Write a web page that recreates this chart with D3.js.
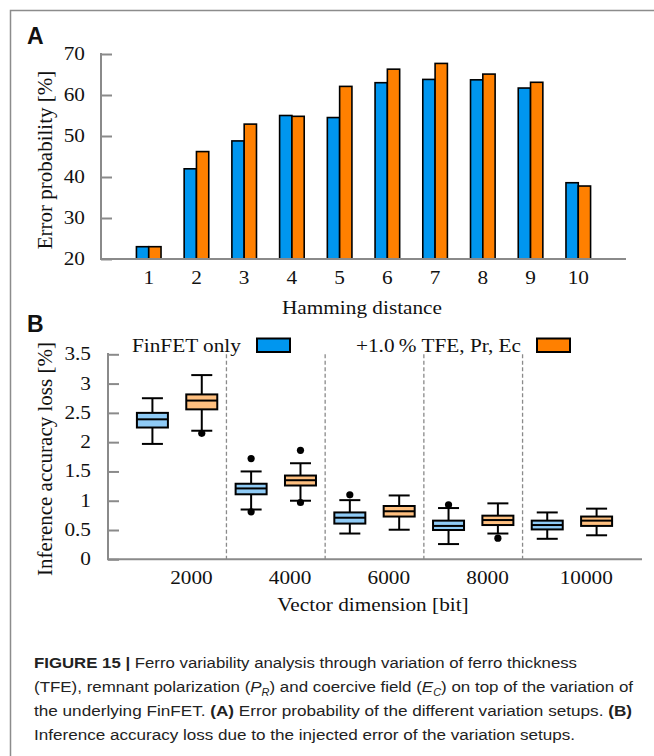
<!DOCTYPE html>
<html>
<head>
<meta charset="utf-8">
<script src="https://cdn.jsdelivr.net/npm/d3@7"></script>
<style>
  body { margin: 0; background: #fff; }
  svg text { fill: #111; }
</style>
</head>
<body>
<div id="viz"></div>
<script>
// ---- data, panel A: error probability [%] per hamming distance
var hamming = [1, 2, 3, 4, 5, 6, 7, 8, 9, 10];
var errFinfet = [23.0, 42.0, 48.8, 55.0, 54.5, 63.0, 63.8, 63.7, 61.7, 38.6];
var errFerro  = [23.0, 46.2, 52.9, 54.8, 62.1, 66.3, 67.7, 65.1, 63.1, 37.8];
var errTicks = [20, 30, 40, 50, 60, 70];

// ---- data, panel B: inference accuracy loss [%] per vector dimension
var dims = ["2000", "4000", "6000", "8000", "10000"];
// [whisker low, q1, median, q3, whisker high]
var lossFinfet = [
  [1.97, 2.25, 2.39, 2.50, 2.75],
  [0.85, 1.11, 1.21, 1.29, 1.50],
  [0.44, 0.61, 0.71, 0.80, 1.01],
  [0.26, 0.50, 0.57, 0.66, 0.875],
  [0.35, 0.51, 0.585, 0.66, 0.80]
];
var lossFerro = [
  [2.195, 2.56, 2.71, 2.815, 3.145],
  [1.00, 1.26, 1.35, 1.43, 1.64],
  [0.505, 0.73, 0.82, 0.91, 1.09],
  [0.44, 0.585, 0.67, 0.745, 0.955],
  [0.41, 0.57, 0.66, 0.73, 0.865]
];
var outFinfet = [[], [1.72, 0.81], [1.10], [0.93], []];
var outFerro  = [[2.15], [1.86, 0.97], [], [0.36], []];
var lossTicks = [0, 0.5, 1, 1.5, 2, 2.5, 3, 3.5];
var seriesNames = ["FinFET only", "+1.0\u2009% TFE, Pr, Ec"];

var blue = "#0096ef", orange = "#ff8000";
var lightBlue = "#8fcbf6", lightOrange = "#ffc080";
var axisGray = "#8a8a8a";
var serif = "'Liberation Serif', 'Times New Roman', serif";
// the figure is a bit stretched sideways, so chart text is widened too
var stretch = 1.15;

var svg = d3.select("#viz").append("svg")
  .attr("width", 654)
  .attr("height", 756);

// helper for the serif chart labels
function label(g, x, y, txt, anchor) {
  return g.append("text")
    .attr("transform", "translate(" + x + "," + y + ") scale(" + stretch + ",1)")
    .attr("text-anchor", anchor)
    .style("font-family", serif).style("font-size", "18.5px")
    .text(txt);
}

// frame (top + left)
svg.append("path")
  .attr("d", "M10.5,756 V10.5 H654")
  .attr("fill", "none")
  .attr("stroke", "#8c8c8c")
  .attr("stroke-width", 1.5);

// panel letters
svg.append("text").attr("x", 27).attr("y", 44).text("A")
  .style("font-family", "'Liberation Sans', Arial, sans-serif")
  .style("font-weight", "bold").style("font-size", "23px");
svg.append("text").attr("x", 27).attr("y", 332).text("B")
  .style("font-family", "'Liberation Sans', Arial, sans-serif")
  .style("font-weight", "bold").style("font-size", "23px");

// ================= PANEL A =================
var xA = d3.scaleLinear().domain([0, 11]).range([101, 626]);
var yA = d3.scaleLinear().domain([20, 70]).range([259, 54]);
var barW = 12.3;

var gA = svg.append("g");

// y axis with inner ticks
var axA = gA.append("g").attr("transform", "translate(101,0)")
  .call(d3.axisRight(yA).tickValues(errTicks).tickSize(11).tickFormat(""));
axA.select(".domain").remove();
axA.selectAll("line").attr("stroke", axisGray).attr("stroke-width", 2);
errTicks.forEach(function (d) { label(gA, 85, yA(d) + 6, d, "end"); });

gA.selectAll(".barB").data(hamming).enter().append("rect")
  .attr("x", d => xA(d) - barW)
  .attr("y", (d, i) => yA(errFinfet[i]))
  .attr("width", barW)
  .attr("height", (d, i) => yA(20) - yA(errFinfet[i]))
  .attr("fill", blue).attr("stroke", "#000").attr("stroke-width", 1.6);
gA.selectAll(".barO").data(hamming).enter().append("rect")
  .attr("x", d => xA(d))
  .attr("y", (d, i) => yA(errFerro[i]))
  .attr("width", barW)
  .attr("height", (d, i) => yA(20) - yA(errFerro[i]))
  .attr("fill", orange).attr("stroke", "#000").attr("stroke-width", 1.6);

// axis lines
gA.append("line").attr("x1", 101).attr("x2", 101).attr("y1", 53).attr("y2", 260)
  .attr("stroke", axisGray).attr("stroke-width", 2);
gA.append("line").attr("x1", 100).attr("x2", 626).attr("y1", yA(20)).attr("y2", yA(20))
  .attr("stroke", axisGray).attr("stroke-width", 2);

hamming.forEach(function (d) { label(gA, xA(d), 284, d, "middle"); });
label(gA, 362, 314, "Hamming distance", "middle");

gA.append("text")
  .attr("transform", "translate(52,160) rotate(-90)")
  .attr("text-anchor", "middle")
  .style("font-family", serif).style("font-size", "21px")
  .text("Error probability [%]");

// ================= PANEL B =================
var xB = d3.scaleLinear().domain([-0.9, 9.92]).range([108, 642]);
var yB = d3.scaleLinear().domain([0, 3.5]).range([559.3, 354.3]);
var boxW = 31, capW = 21;

var gB = svg.append("g");

var axB = gB.append("g").attr("transform", "translate(108,0)")
  .call(d3.axisRight(yB).tickValues(lossTicks).tickSize(11).tickFormat(""));
axB.select(".domain").remove();
axB.selectAll("line").attr("stroke", axisGray).attr("stroke-width", 2);
lossTicks.forEach(function (d) { label(gB, 91, yB(d) + 6, d, "end"); });

// dashed separators
gB.selectAll(".sep").data([0, 1, 2, 3]).enter().append("line")
  .attr("x1", g => xB(2 * g + 1.5)).attr("x2", g => xB(2 * g + 1.5))
  .attr("y1", yB(3.5)).attr("y2", yB(0))
  .attr("stroke", "#8a8a8a").attr("stroke-width", 1.3)
  .attr("stroke-dasharray", "4,2.5");

function drawBoxes(stats, outs, fill, s) {
  var g = gB.selectAll(".box" + s).data(stats).enter().append("g");
  var cx = (d, i) => xB(2 * i + s);
  g.append("line")
    .attr("x1", cx).attr("x2", cx)
    .attr("y1", d => yB(d[0])).attr("y2", d => yB(d[4]))
    .attr("stroke", "#000").attr("stroke-width", 2);
  g.append("line")
    .attr("x1", (d, i) => cx(d, i) - capW / 2).attr("x2", (d, i) => cx(d, i) + capW / 2)
    .attr("y1", d => yB(d[0])).attr("y2", d => yB(d[0]))
    .attr("stroke", "#000").attr("stroke-width", 2);
  g.append("line")
    .attr("x1", (d, i) => cx(d, i) - capW / 2).attr("x2", (d, i) => cx(d, i) + capW / 2)
    .attr("y1", d => yB(d[4])).attr("y2", d => yB(d[4]))
    .attr("stroke", "#000").attr("stroke-width", 2);
  g.append("rect")
    .attr("x", (d, i) => cx(d, i) - boxW / 2)
    .attr("y", d => yB(d[3]))
    .attr("width", boxW)
    .attr("height", d => yB(d[1]) - yB(d[3]))
    .attr("fill", fill).attr("stroke", "#000").attr("stroke-width", 2);
  g.append("line")
    .attr("x1", (d, i) => cx(d, i) - boxW / 2).attr("x2", (d, i) => cx(d, i) + boxW / 2)
    .attr("y1", d => yB(d[2])).attr("y2", d => yB(d[2]))
    .attr("stroke", "#000").attr("stroke-width", 2);
  outs.forEach(function (list, i) {
    gB.selectAll(null).data(list).enter().append("circle")
      .attr("cx", xB(2 * i + s)).attr("cy", v => yB(v))
      .attr("r", 3.6).attr("fill", "#000");
  });
}
drawBoxes(lossFinfet, outFinfet, lightBlue, 0);
drawBoxes(lossFerro, outFerro, lightOrange, 1);

gB.append("line").attr("x1", 108).attr("x2", 108).attr("y1", 353).attr("y2", 560)
  .attr("stroke", axisGray).attr("stroke-width", 2);
gB.append("line").attr("x1", 107).attr("x2", 642).attr("y1", yB(0)).attr("y2", yB(0))
  .attr("stroke", axisGray).attr("stroke-width", 2);

dims.forEach(function (d, i) { label(gB, xB(2 * i + 0.79), 584, d, "middle"); });
label(gB, 373, 611, "Vector dimension [bit]", "middle");
gB.append("text")
  .attr("transform", "translate(52,459) rotate(-90)")
  .attr("text-anchor", "middle")
  .style("font-family", serif).style("font-size", "21px")
  .text("Inference accuracy loss [%]");

// legend
var legX = [[132, 257], [356, 537]];
var legFill = [blue, orange];
seriesNames.forEach(function (n, i) {
  label(gB, legX[i][0], 352, n, "start");
  gB.append("rect").attr("x", legX[i][1]).attr("y", 338.5)
    .attr("width", 33).attr("height", 13.5)
    .attr("fill", legFill[i]).attr("stroke", "#000").attr("stroke-width", 2);
});

// ================= caption =================
var cap = svg.append("g")
  .style("font-family", "'Liberation Sans', Arial, sans-serif")
  .style("font-size", "15.5px");
var capLines = [
  [["FIGURE 15 | ", "b"], ["Ferro variability analysis through variation of ferro thickness", ""]],
  [["(TFE), remnant polarization (", ""], ["P", "i"], ["R", "si"], [") and coercive field (", ""], ["E", "i"], ["C", "si"], [") on top of the variation of", ""]],
  [["the underlying FinFET. ", ""], ["(A)", "b"], [" Error probability of the different variation setups. ", ""], ["(B)", "b"]],
  [["Inference accuracy loss due to the injected error of the variation setups.", ""]]
];
var capEnd = [577, 633, 632, 575];
capLines.forEach(function (line, li) {
  var t = cap.append("text").attr("x", 34).attr("y", 668 + li * 24)
    .attr("textLength", capEnd[li] - 34)
    .attr("lengthAdjust", "spacingAndGlyphs");
  line.forEach(function (p) {
    var ts = t.append("tspan").text(p[0]).style("fill", "#222");
    if (p[1] == "b") ts.style("font-weight", "bold");
    if (p[1].indexOf("i") >= 0) ts.style("font-style", "italic");
    if (p[1].indexOf("s") >= 0) ts.attr("dy", 4).style("font-size", "10px");
    if (p[1] == "i" || p[1] == "") {
      // reset baseline after a subscript
      var prev = ts.node().previousSibling;
      if (prev && d3.select(prev).attr("dy") == 4) ts.attr("dy", -4);
    }
  });
});
</script>
</body>
</html>
